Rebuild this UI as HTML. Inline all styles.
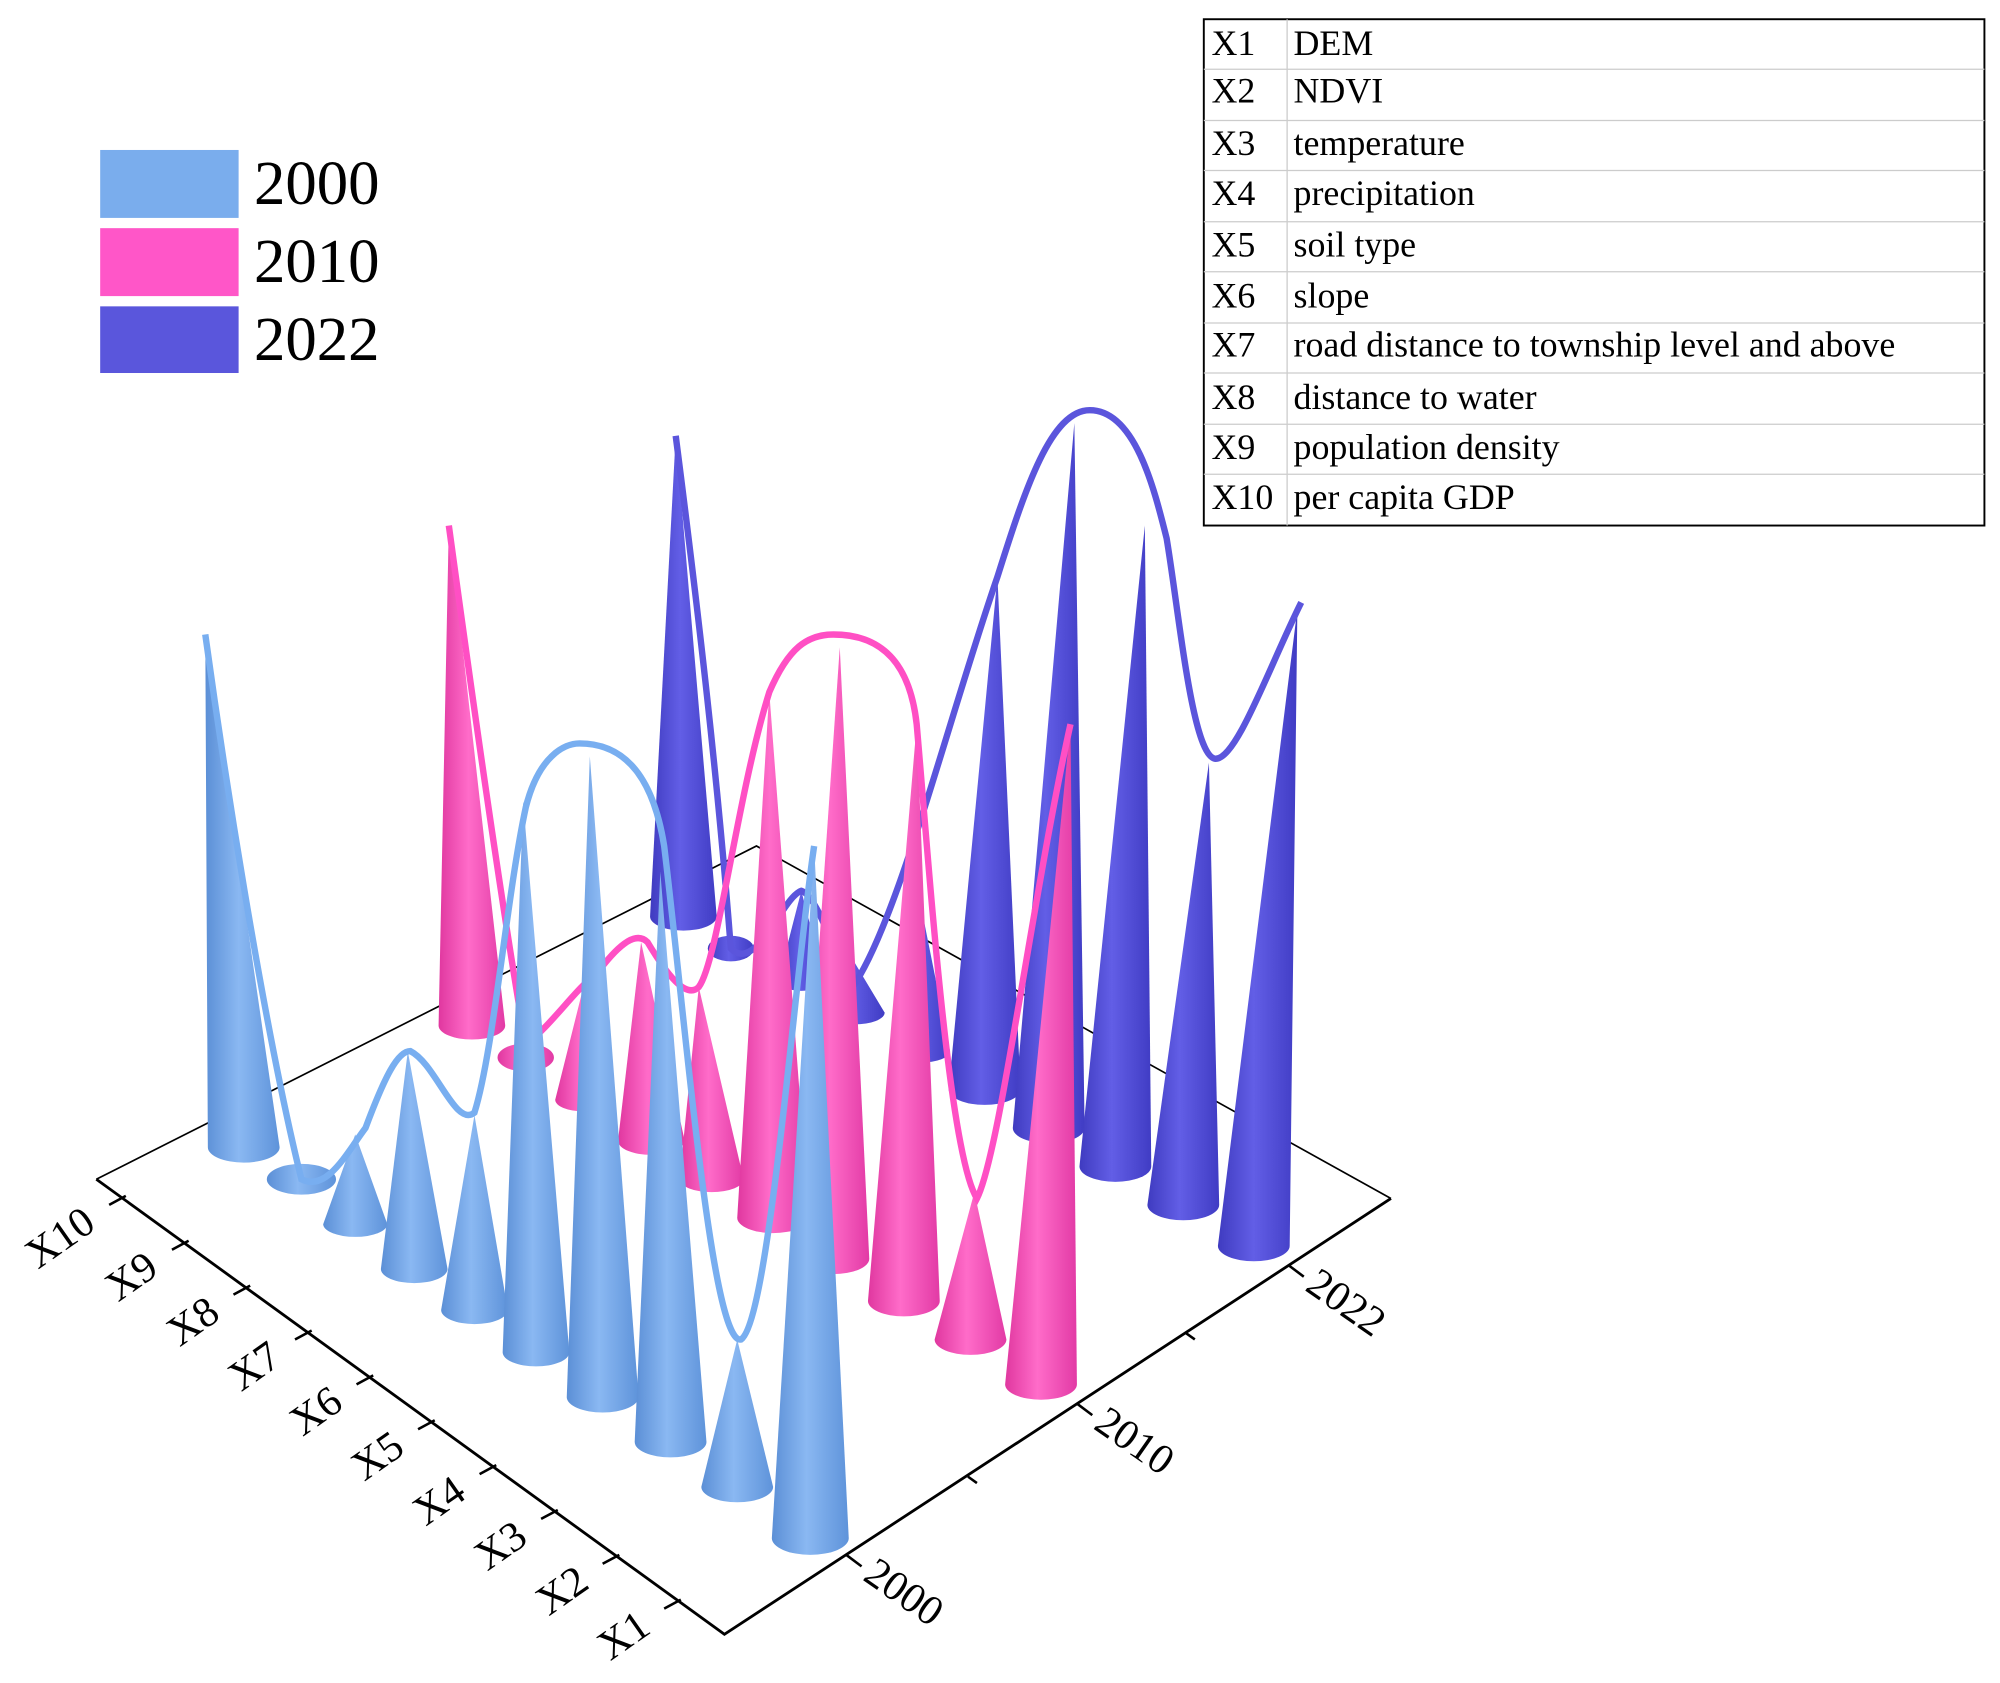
<!DOCTYPE html>
<html><head><meta charset="utf-8">
<style>
html,body{margin:0;padding:0;background:#fff;}
svg{display:block;}
text{font-family:"Liberation Serif",serif;fill:#000;}
</style></head>
<body>
<svg width="2000" height="1683" viewBox="0 0 1560 1313" xmlns="http://www.w3.org/2000/svg">
<defs>
<linearGradient id="gb" x1="0" x2="1" y1="0" y2="0">
<stop offset="0" stop-color="#5b8fd6"/><stop offset="0.45" stop-color="#8ab8f2"/><stop offset="1" stop-color="#5e93da"/></linearGradient>
<linearGradient id="gp" x1="0" x2="1" y1="0" y2="0">
<stop offset="0" stop-color="#e0379f"/><stop offset="0.45" stop-color="#ff6cc9"/><stop offset="1" stop-color="#e23aa5"/></linearGradient>
<linearGradient id="gv" x1="0" x2="1" y1="0" y2="0">
<stop offset="0" stop-color="#3f3bc0"/><stop offset="0.45" stop-color="#625ee6"/><stop offset="1" stop-color="#403cc4"/></linearGradient>
</defs>

<g stroke="#000" stroke-width="1.3" fill="none">
<path d="M75,920 L590,660 L1085,935"/>
<path d="M75,920 L565,1275 L1085,935" stroke-width="2.2"/>
</g>
<g stroke="#000" stroke-width="2">
<line x1="85" y1="940" x2="98" y2="933"/><line x1="134" y1="975" x2="147" y2="968"/>
<line x1="182" y1="1010" x2="195" y2="1003"/><line x1="230" y1="1045" x2="243" y2="1038"/>
<line x1="278" y1="1080" x2="291" y2="1073"/><line x1="326" y1="1115" x2="339" y2="1108"/>
<line x1="374" y1="1150" x2="387" y2="1143"/><line x1="422" y1="1185" x2="435" y2="1178"/>
<line x1="470" y1="1220" x2="483" y2="1213"/><line x1="518" y1="1255" x2="531" y2="1248"/>
<line x1="660" y1="1213" x2="672" y2="1222"/><line x1="840" y1="1095" x2="852" y2="1104"/>
<line x1="1005" y1="987" x2="1017" y2="996"/>
<line x1="755" y1="1152" x2="762" y2="1157"/><line x1="925" y1="1040" x2="932" y2="1045"/>
</g>
<g font-size="33">
<text transform="translate(76,958) rotate(-35)" text-anchor="end">X10</text>
<text transform="translate(125,993) rotate(-35)" text-anchor="end">X9</text>
<text transform="translate(173,1028) rotate(-35)" text-anchor="end">X8</text>
<text transform="translate(221,1063) rotate(-35)" text-anchor="end">X7</text>
<text transform="translate(269,1098) rotate(-35)" text-anchor="end">X6</text>
<text transform="translate(317,1133) rotate(-35)" text-anchor="end">X5</text>
<text transform="translate(365,1168) rotate(-35)" text-anchor="end">X4</text>
<text transform="translate(413,1203) rotate(-35)" text-anchor="end">X3</text>
<text transform="translate(461,1238) rotate(-35)" text-anchor="end">X2</text>
<text transform="translate(509,1273) rotate(-35)" text-anchor="end">X1</text>
<text transform="translate(672,1232) rotate(35)">2000</text>
<text transform="translate(852,1114) rotate(35)">2010</text>
<text transform="translate(1017,1006) rotate(35)">2022</text>
</g>

<g fill="url(#gv)">
<path d="M507,715 L527,340 L559,715 A26,11 0 0 1 507,715Z"/>
<ellipse cx="570" cy="740" rx="18" ry="10"/>
<path d="M607,765 L625,695 L643,765 A18,8 0 0 1 607,765Z"/>
<path d="M643,790 L660,740 L690,790 A23,9 0 0 1 643,790Z"/>
<path d="M695,820 L715,690 L741,820 A23,9 0 0 1 695,820Z"/>
<path d="M740,850 L778,450 L796,850 A28,12 0 0 1 740,850Z"/>
<path d="M790,880 L838,330 L846,880 A28,12 0 0 1 790,880Z"/>
<path d="M842,910 L893,410 L898,910 A28,12 0 0 1 842,910Z"/>
<path d="M895,940 L943,595 L951,940 A28,12 0 0 1 895,940Z"/>
<path d="M950,972 L1012,475 L1006,972 A28,12 0 0 1 950,972Z"/>
</g>
<path d="M527,340 C545,480 560,610 570,740 C590,760 610,700 625,695 C640,700 655,760 665,770 C700,720 740,560 778,450 C800,380 820,320 850,320 C885,320 900,380 910,420 C920,480 930,590 948,592 C965,592 990,520 1015,470" fill="none" stroke="#5b55dc" stroke-width="5"/>

<g fill="url(#gp)">
<path d="M342,800 L350,410 L394,800 A26,11 0 0 1 342,800Z"/>
<ellipse cx="410" cy="825" rx="22" ry="11"/>
<path d="M433,858 L455,770 L477,858 A22,9 0 0 1 433,858Z"/>
<path d="M482,890 L500,735 L534,890 A26,11 0 0 1 482,890Z"/>
<path d="M530,920 L545,770 L580,920 A25,10 0 0 1 530,920Z"/>
<path d="M575,950 L600,540 L631,950 A28,12 0 0 1 575,950Z"/>
<path d="M622,982 L655,505 L678,982 A28,12 0 0 1 622,982Z"/>
<path d="M677,1015 L715,565 L733,1015 A28,12 0 0 1 677,1015Z"/>
<path d="M729,1045 L760,930 L785,1045 A28,12 0 0 1 729,1045Z"/>
<path d="M784,1080 L835,565 L840,1080 A28,12 0 0 1 784,1080Z"/>
</g>
<path d="M350,410 C365,520 390,700 410,815 C430,800 450,770 465,760 C480,740 495,725 505,735 C520,760 535,780 545,770 C560,750 575,620 600,540 C615,505 630,495 650,495 C690,495 710,520 715,565 C725,680 740,900 762,935 C780,900 805,700 835,565" fill="none" stroke="#ff4fc4" stroke-width="5"/>

<g fill="url(#gb)">
<path d="M162,895 L160,495 L218,895 A28,12 0 0 1 162,895Z"/>
<ellipse cx="235" cy="920" rx="27" ry="12"/>
<path d="M252,955 L277,885 L302,955 A25,10 0 0 1 252,955Z"/>
<path d="M297,990 L318,820 L349,990 A26,11 0 0 1 297,990Z"/>
<path d="M344,1022 L370,870 L396,1022 A26,11 0 0 1 344,1022Z"/>
<path d="M392,1055 L408,625 L444,1055 A26,11 0 0 1 392,1055Z"/>
<path d="M442,1090 L460,590 L498,1090 A28,12 0 0 1 442,1090Z"/>
<path d="M495,1125 L515,680 L551,1125 A28,12 0 0 1 495,1125Z"/>
<path d="M547,1160 L575,1045 L603,1160 A28,12 0 0 1 547,1160Z"/>
<path d="M602,1200 L635,660 L662,1200 A30,13 0 0 1 602,1200Z"/>
</g>
<path d="M160,495 C180,640 210,820 235,920 C255,930 270,900 285,880 C300,840 310,820 320,820 C340,830 355,880 370,868 C385,820 395,700 410,630 C420,590 440,580 452,580 C490,580 510,610 518,660 C535,800 555,1050 578,1045 C600,1030 620,760 635,660" fill="none" stroke="#78aef0" stroke-width="5"/>

<rect x="78" y="117" width="108" height="53" fill="#7aaded"/>
<rect x="78" y="178" width="108" height="53" fill="#ff56c8"/>
<rect x="78" y="239" width="108" height="52" fill="#5a56dc"/>
<g font-size="49">
<text x="198" y="159">2000</text>
<text x="198" y="220">2010</text>
<text x="198" y="281">2022</text>
</g>

<rect x="939" y="15" width="609" height="395" fill="#fff" stroke="#000" stroke-width="1.5"/>
<g stroke="#ccc" stroke-width="1">
<line x1="1004" y1="15" x2="1004" y2="410"/>
<line x1="939" y1="54" x2="1548" y2="54"/><line x1="939" y1="94" x2="1548" y2="94"/>
<line x1="939" y1="133" x2="1548" y2="133"/><line x1="939" y1="173" x2="1548" y2="173"/>
<line x1="939" y1="212" x2="1548" y2="212"/><line x1="939" y1="252" x2="1548" y2="252"/>
<line x1="939" y1="291" x2="1548" y2="291"/><line x1="939" y1="331" x2="1548" y2="331"/>
<line x1="939" y1="370" x2="1548" y2="370"/>
</g>
<g font-size="28">
<text x="945" y="43">X1</text><text x="1009" y="43">DEM</text>
<text x="945" y="80">X2</text><text x="1009" y="80">NDVI</text>
<text x="945" y="121">X3</text><text x="1009" y="121">temperature</text>
<text x="945" y="160">X4</text><text x="1009" y="160">precipitation</text>
<text x="945" y="200">X5</text><text x="1009" y="200">soil type</text>
<text x="945" y="240">X6</text><text x="1009" y="240">slope</text>
<text x="945" y="278">X7</text><text x="1009" y="278">road distance to township level and above</text>
<text x="945" y="319">X8</text><text x="1009" y="319">distance to water</text>
<text x="945" y="358">X9</text><text x="1009" y="358">population density</text>
<text x="945" y="397">X10</text><text x="1009" y="397">per capita GDP</text>
</g>
</svg>
</body></html>
